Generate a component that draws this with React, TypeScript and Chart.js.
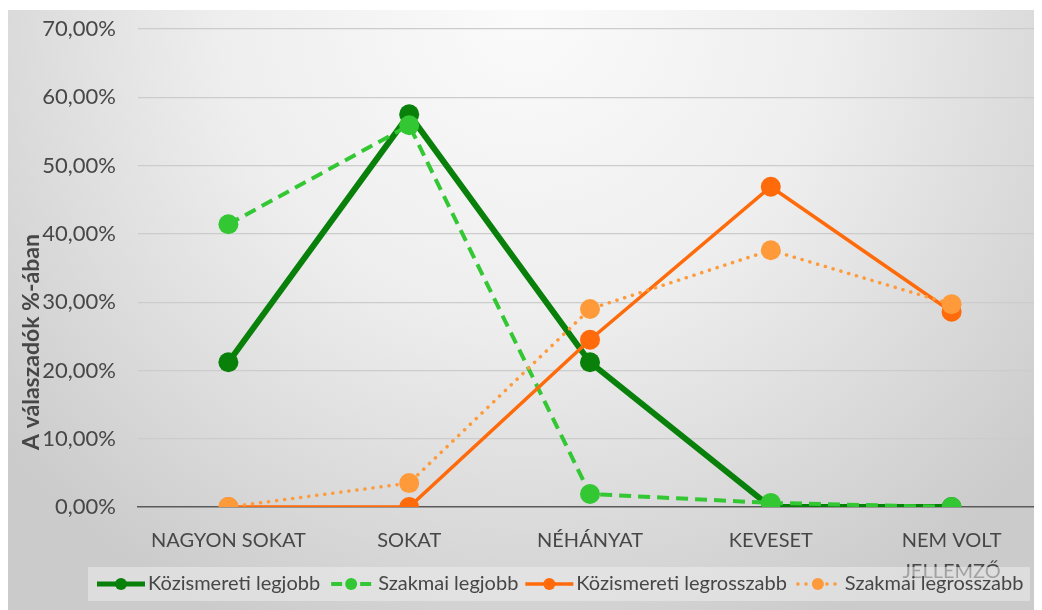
import React, { useEffect, useRef } from "react";
import { Chart, registerables } from "chart.js";

Chart.register(...registerables);

// Survey answer categories (x axis)
const categories: (string | string[])[] = [
  "NAGYON SOKAT",
  "SOKAT",
  "NÉHÁNYAT",
  "KEVESET",
  ["NEM VOLT", "JELLEMZŐ"],
];

// Share of respondents, in percent
const kozismeretiLegjobb = [21.2, 57.5, 21.2, 0.0, 0.0];
const szakmaiLegjobb = [41.4, 55.9, 1.9, 0.6, 0.0];
const kozismeretiLegrosszabb = [0.0, 0.0, 24.5, 46.9, 28.6];
const szakmaiLegrosszabb = [0.0, 3.5, 29.0, 37.6, 29.7];

const seriesNames = [
  "Közismereti legjobb",
  "Szakmai legjobb",
  "Közismereti legrosszabb",
  "Szakmai legrosszabb",
];

const yMin = 0;
const yMax = 70;
const yStep = 10;
const yTitle = "A válaszadók %-ában";

const FONT = "Lato, 'Open Sans', sans-serif";
const TEXT = "#474747";

const DARK_GREEN = "#08800a";
const LIGHT_GREEN = "#33c733";
const ORANGE = "#ff6a0a";
const LIGHT_ORANGE = "#ff9a3a";

const fmtPct = (v: number) => v.toFixed(2).replace(".", ",") + "%";

const backgroundPlugin = {
  id: "softBackground",
  beforeDraw(chart: any) {
    const { ctx } = chart;
    const w = 1034;
    const h = chart.height;
    ctx.save();
    const g = ctx.createRadialGradient(w / 2, 0, 0, w / 2, 0, 680);
    g.addColorStop(0, "#fbfbfb");
    g.addColorStop(0.45, "#eeeeee");
    g.addColorStop(1, "#cbcbcb");
    ctx.fillStyle = g;
    ctx.fillRect(0, 0, chart.width, h);
    ctx.restore();
  },
};

const axisTitlePlugin = {
  id: "axisTitle",
  afterDraw(chart: any) {
    const { ctx, chartArea } = chart;
    ctx.save();
    ctx.translate(chartArea.left - 106, chartArea.top + 313);
    ctx.rotate(-Math.PI / 2);
    ctx.font = `bold 23px ${FONT}`;
    ctx.fillStyle = TEXT;
    ctx.textAlign = "center";
    ctx.textBaseline = "middle";
    ctx.fillText(yTitle, 0, 0);
    ctx.restore();
  },
};

function drawSymbol(ctx: CanvasRenderingContext2D, ds: any, x: number, y: number, w: number) {
  const mid = x + w / 2;
  ctx.save();
  ctx.strokeStyle = ds.borderColor;
  ctx.fillStyle = ds.pointBackgroundColor;
  ctx.lineWidth = Math.min(ds.borderWidth, 5);
  ctx.lineCap = ds.borderCapStyle || "butt";
  ctx.setLineDash(ds.borderDash || []);
  if (ds.borderDash && ds.borderDash.length) {
    // short segments either side of the marker
    ctx.beginPath();
    ctx.moveTo(x + 4, y);
    ctx.lineTo(mid - 9, y);
    ctx.moveTo(mid + 9, y);
    ctx.lineTo(x + w - 4, y);
    ctx.stroke();
  } else {
    ctx.beginPath();
    ctx.moveTo(x, y);
    ctx.lineTo(x + w, y);
    ctx.stroke();
  }
  ctx.setLineDash([]);
  ctx.beginPath();
  ctx.arc(mid, y, 6, 0, Math.PI * 2);
  ctx.fill();
  ctx.restore();
}

const legendPlugin = {
  id: "boxLegend",
  afterDraw(chart: any) {
    const { ctx } = chart;
    const left = 80;
    const right = 1022;
    const top = 557;
    const bottom = 591;
    const cy = (top + bottom) / 2;
    ctx.save();
    ctx.fillStyle = "rgba(236,236,236,0.55)";
    ctx.fillRect(left, top, right - left, bottom - top);
    ctx.font = `20px ${FONT}`;
    ctx.textBaseline = "middle";
    const symW = 48;
    let x = left + 9;
    chart.data.datasets.forEach((ds: any) => {
      drawSymbol(ctx, ds, x, cy, symW);
      ctx.fillStyle = TEXT;
      ctx.textAlign = "left";
      ctx.fillText(ds.label, x + symW + 3, cy);
      x += symW + 3 + ctx.measureText(ds.label).width + 7;
    });
    ctx.restore();
  },
};

export default function App() {
  const ref = useRef<HTMLCanvasElement>(null);

  useEffect(() => {
    document.body.style.overflow = "hidden";
    if (!ref.current) return;
    const common = { pointRadius: 10, pointHoverRadius: 10, pointBorderWidth: 0, tension: 0, fill: false };
    const chart = new Chart(ref.current, {
      type: "line",
      data: {
        labels: categories,
        datasets: [
          {
            ...common,
            label: seriesNames[0],
            data: kozismeretiLegjobb,
            borderColor: DARK_GREEN,
            pointBackgroundColor: DARK_GREEN,
            backgroundColor: DARK_GREEN,
            borderWidth: 6,
            order: 4,
          },
          {
            ...common,
            label: seriesNames[1],
            data: szakmaiLegjobb,
            borderColor: LIGHT_GREEN,
            pointBackgroundColor: LIGHT_GREEN,
            backgroundColor: LIGHT_GREEN,
            borderWidth: 4,
            borderDash: [12, 7],
            order: 3,
          },
          {
            ...common,
            label: seriesNames[2],
            data: kozismeretiLegrosszabb,
            borderColor: ORANGE,
            pointBackgroundColor: ORANGE,
            backgroundColor: ORANGE,
            borderWidth: 3.5,
            order: 2,
          },
          {
            ...common,
            label: seriesNames[3],
            data: szakmaiLegrosszabb,
            borderColor: LIGHT_ORANGE,
            pointBackgroundColor: LIGHT_ORANGE,
            backgroundColor: LIGHT_ORANGE,
            borderWidth: 3.5,
            borderDash: [0.1, 8],
            borderCapStyle: "round",
            order: 1,
          },
        ],
      },
      options: {
        responsive: false,
        animation: false,
        layout: { padding: { left: 0, top: 19, right: 4, bottom: 0 } },
        plugins: {
          legend: { display: false },
          tooltip: { enabled: false },
          title: { display: false },
        },
        scales: {
          x: {
            offset: true,
            grid: { display: false, drawTicks: false },
            border: { display: true, color: "#5a5a5a", width: 1.5 },
            ticks: {
              color: TEXT,
              font: { family: FONT, size: 20, lineHeight: 1.55 },
              padding: 18,
              maxRotation: 0,
              autoSkip: false,
            },
            afterFit(scale: any) {
              scale.height = 103;
              scale.paddingLeft = 0;
              scale.paddingRight = 0;
            },
          },
          y: {
            min: yMin,
            max: yMax,
            grid: { color: "#cccccc", lineWidth: 1.2, drawTicks: false },
            border: { display: false },
            ticks: {
              stepSize: yStep,
              color: TEXT,
              font: { family: FONT, size: 22 },
              padding: 22,
              callback: (v: any) => fmtPct(Number(v)),
            },
            afterFit(scale: any) {
              scale.width = 130;
              scale.paddingTop = 0;
              scale.paddingBottom = 0;
            },
          },
        },
      },
      plugins: [backgroundPlugin, axisTitlePlugin, legendPlugin],
    } as any);
    return () => chart.destroy();
  }, []);

  return (
    <div style={{ paddingTop: 2, width: 1034, height: 600, overflow: "hidden" }}>
      <canvas ref={ref} width={1044} height={600} style={{ display: "block" }} />
    </div>
  );
}
